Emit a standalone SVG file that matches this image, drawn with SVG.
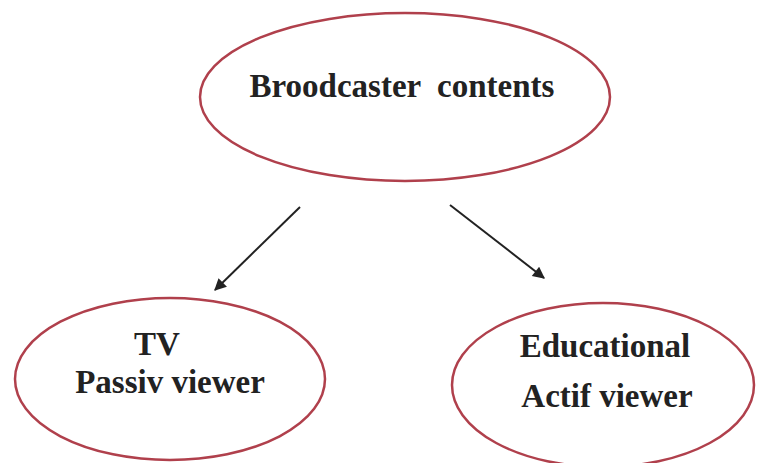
<svg xmlns="http://www.w3.org/2000/svg" width="757" height="463" viewBox="0 0 757 463">
<style>
.node{fill:#fff;stroke:#b0404c;stroke-width:2.5}
.lbl{font-family:"Liberation Serif","Times New Roman",serif;font-weight:bold;font-size:33px;fill:#222;text-anchor:middle}
.edge{stroke:#222;stroke-width:2;fill:none;marker-end:url(#ah)}
</style>
<defs>
<marker id="ah" viewBox="0 0 10 10" refX="9" refY="5" markerWidth="14" markerHeight="12" markerUnits="userSpaceOnUse" orient="auto">
<path d="M0,0 L10,5 L0,10 z" fill="#222"/>
</marker>
</defs>
<rect width="757" height="463" fill="#fff"/>
<g id="connectors">
<line class="edge" x1="300" y1="207" x2="215" y2="290"/>
<line class="edge" x1="450" y1="205" x2="544" y2="278"/>
</g>
<g id="broadcaster">
<ellipse class="node" cx="405" cy="97" rx="205" ry="84"/>
<text class="lbl" x="402" y="97" xml:space="preserve">Broodcaster  contents</text>
</g>
<g id="tv">
<ellipse class="node" cx="170" cy="379" rx="155" ry="81"/>
<text class="lbl" x="157" y="355">TV</text>
<text class="lbl" x="170" y="393">Passiv viewer</text>
</g>
<g id="educational">
<ellipse class="node" cx="603" cy="385" rx="151" ry="82"/>
<text class="lbl" x="605" y="357">Educational</text>
<text class="lbl" x="607" y="407">Actif viewer</text>
</g>
</svg>
